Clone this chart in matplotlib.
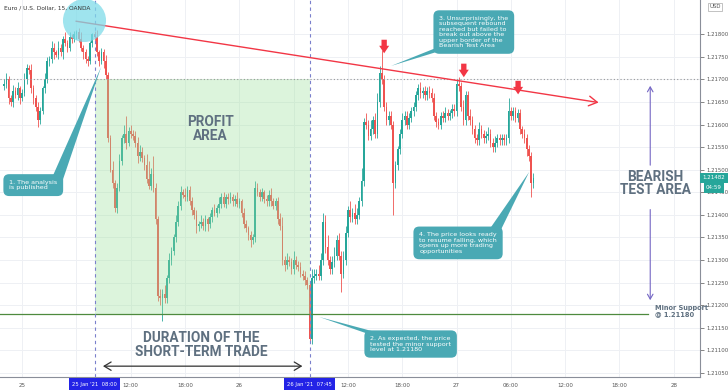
import numpy as np
import matplotlib
matplotlib.use("Agg")
import matplotlib.pyplot as plt
from matplotlib.patches import Rectangle, Polygon
from matplotlib.transforms import blended_transform_factory

# EUR/USD 15 min candles, first bar 24 Jan 22:00 (x axis = hours from 25 Jan 00:00)
start_hour = -2.0
bar_hours = 0.25
first_open = 1.21685

closes = [
    1.21690, 1.21700, 1.21660, 1.21650, 1.21675, 1.21665, 1.21680, 1.21660, 1.21670, 1.21700,
    1.21725, 1.21720, 1.21680, 1.21660, 1.21640, 1.21610, 1.21630, 1.21680, 1.21700, 1.21740,
    1.21745, 1.21770, 1.21760, 1.21755, 1.21770, 1.21760, 1.21790, 1.21780, 1.21770, 1.21795,
    1.21790, 1.21800, 1.21805, 1.21790, 1.21770, 1.21760, 1.21745, 1.21740, 1.21780, 1.21800,
    1.21795, 1.21760, 1.21740, 1.21760, 1.21740, 1.21710, 1.21570, 1.21500, 1.21470, 1.21415,
    1.21460, 1.21520, 1.21570, 1.21580, 1.21560, 1.21585, 1.21580, 1.21575, 1.21560, 1.21530,
    1.21540, 1.21525, 1.21510, 1.21480, 1.21465, 1.21490, 1.21460, 1.21390, 1.21220, 1.21215,
    1.21225, 1.21215, 1.21260, 1.21300, 1.21320, 1.21350, 1.21385, 1.21420, 1.21450, 1.21445,
    1.21440, 1.21455, 1.21430, 1.21410, 1.21400, 1.21375, 1.21380, 1.21385, 1.21375, 1.21390,
    1.21380, 1.21395, 1.21410, 1.21405, 1.21415, 1.21425, 1.21440, 1.21425, 1.21440, 1.21435,
    1.21440, 1.21430, 1.21435, 1.21425, 1.21430, 1.21405, 1.21380, 1.21370, 1.21355, 1.21345,
    1.21350, 1.21460, 1.21450, 1.21440, 1.21450, 1.21435, 1.21430, 1.21445, 1.21430, 1.21420,
    1.21430, 1.21390, 1.21375, 1.21300, 1.21290, 1.21300, 1.21295, 1.21280, 1.21300, 1.21290,
    1.21285, 1.21270, 1.21265, 1.21255, 1.21245, 1.21125, 1.21260, 1.21265, 1.21270, 1.21265,
    1.21300, 1.21385, 1.21330, 1.21300, 1.21280, 1.21295, 1.21310, 1.21345, 1.21310, 1.21270,
    1.21300, 1.21360, 1.21410, 1.21395, 1.21405, 1.21390, 1.21400, 1.21430, 1.21475, 1.21605,
    1.21600, 1.21575, 1.21590, 1.21610, 1.21580, 1.21650, 1.21715, 1.21700, 1.21640, 1.21610,
    1.21620, 1.21600, 1.21470, 1.21510, 1.21545, 1.21580, 1.21610, 1.21620, 1.21600, 1.21615,
    1.21630, 1.21640, 1.21665, 1.21680, 1.21670, 1.21675, 1.21665, 1.21675, 1.21670, 1.21660,
    1.21620, 1.21605, 1.21600, 1.21620, 1.21615, 1.21625, 1.21620, 1.21625, 1.21635, 1.21630,
    1.21690, 1.21685, 1.21640, 1.21610, 1.21665, 1.21620, 1.21610, 1.21590, 1.21570, 1.21565,
    1.21590, 1.21580, 1.21570, 1.21575, 1.21580, 1.21560, 1.21550, 1.21560, 1.21570, 1.21565,
    1.21570, 1.21565, 1.21570, 1.21630, 1.21620, 1.21630, 1.21615, 1.21625, 1.21590, 1.21580,
    1.21570, 1.21545, 1.21530, 1.21470, 1.21482,
]

# wicks beyond the body, in pips
upper_wick = [
    1.0, 1.5, 0.8, 0.6, 1.2, 0.8, 1.5, 0.6, 0.8, 1.5, 1.0, 0.8, 1.5, 0.8, 0.6, 1.0, 0.8, 0.6, 1.5, 1.0,
    0.8, 1.5, 1.0, 0.6, 1.5, 0.8, 0.6, 1.5, 0.8, 1.0, 0.6, 0.8, 0.5, 0.8, 1.5, 0.6, 0.8, 0.6, 0.5, 0.3,
    0.8, 1.5, 0.6, 1.0, 0.8, 1.5, 0.6, 0.8, 2.0, 0.8, 1.0, 1.5, 0.6, 2.0, 4.0, 1.0, 1.5, 0.8, 1.0, 1.2,
    1.5, 1.0, 0.8, 2.5, 4.0, 1.5, 4.0, 1.0, 0.8, 1.5, 1.0, 2.0, 0.8, 1.5, 1.0, 0.8, 1.5, 1.0, 1.5, 0.8,
    1.5, 1.0, 0.8, 1.0, 0.8, 1.0, 0.6, 1.5, 0.8, 1.0, 0.6, 1.0, 0.8, 1.5, 0.6, 1.5, 0.8, 1.0, 0.6, 0.8,
    1.0, 0.6, 0.8, 1.5, 0.8, 0.6, 1.0, 0.8, 0.6, 1.0, 0.8, 1.5, 1.0, 0.8, 1.0, 0.6, 0.8, 1.0, 1.5, 0.8,
    0.8, 1.0, 1.5, 2.0, 1.0, 1.5, 0.8, 1.0, 2.0, 1.0, 0.8, 1.0, 0.8, 1.0, 0.8, 0.8, 2.0, 1.5, 1.0, 2.0,
    1.5, 2.0, 1.5, 2.5, 1.0, 1.5, 2.0, 1.0, 1.5, 1.0, 2.0, 1.5, 1.0, 2.0, 1.0, 2.0, 1.5, 1.0, 3.0, 1.0,
    2.0, 1.0, 2.0, 1.0, 1.5, 2.0, 1.5, 5.0, 1.0, 1.0, 1.0, 1.0, 0.8, 1.0, 0.8, 1.0, 1.5, 1.0, 1.0, 1.0,
    1.0, 1.0, 1.0, 1.0, 1.5, 0.8, 1.0, 0.8, 1.0, 1.0, 1.0, 0.8, 1.0, 0.8, 1.0, 1.5, 1.0, 0.8, 1.0, 1.0,
    1.0, 1.5, 1.0, 1.5, 1.0, 1.0, 1.5, 0.8, 1.0, 1.0, 1.5, 1.0, 0.8, 1.0, 1.5, 1.0, 1.0, 1.5, 1.0, 1.0,
    1.0, 1.0, 1.0, 3.0, 1.0, 1.0, 1.0, 1.0, 1.0, 0.8, 1.0, 1.0, 1.0, 1.0, 1.0,
]
lower_wick = [
    0.8, 1.0, 1.5, 0.8, 1.0, 0.6, 1.0, 1.5, 0.8, 0.6, 1.0, 0.8, 1.0, 1.5, 1.0, 1.5, 0.8, 0.6, 1.0, 0.8,
    1.0, 0.8, 1.5, 0.6, 1.0, 0.8, 1.5, 0.6, 1.0, 0.8, 1.0, 0.8, 1.0, 0.6, 0.8, 1.5, 0.8, 1.0, 0.6, 0.8,
    1.0, 0.8, 1.0, 0.6, 1.5, 1.0, 0.8, 0.6, 1.0, 0.8, 1.0, 0.8, 1.0, 1.0, 1.5, 0.8, 1.0, 0.8, 1.0, 1.5,
    1.0, 0.8, 1.0, 1.0, 0.8, 1.0, 1.0, 1.0, 1.0, 1.5, 5.0, 1.0, 1.0, 1.0, 1.0, 0.8, 1.0, 1.0, 1.0, 0.8,
    1.0, 1.0, 0.8, 1.0, 1.0, 1.5, 1.0, 1.0, 0.8, 1.0, 1.5, 1.0, 1.0, 0.8, 1.0, 1.0, 1.0, 0.8, 1.0, 1.0,
    0.8, 1.0, 1.0, 0.8, 1.0, 1.0, 1.0, 0.8, 1.0, 1.5, 1.0, 1.0, 0.8, 1.0, 1.0, 0.8, 1.0, 1.0, 1.0, 0.8,
    1.0, 1.0, 0.8, 1.0, 1.5, 1.0, 0.8, 1.0, 1.0, 1.0, 1.0, 0.8, 1.0, 1.0, 1.0, 0.8, 1.0, 1.0, 1.0, 1.0,
    1.0, 1.0, 1.5, 1.0, 1.0, 1.0, 1.0, 1.0, 1.0, 4.0, 1.0, 1.0, 1.0, 1.0, 1.0, 1.0, 1.0, 1.0, 1.0, 1.0,
    1.0, 1.0, 1.0, 1.0, 1.0, 1.0, 1.0, 1.0, 1.0, 1.0, 1.0, 1.0, 7.0, 1.0, 1.0, 1.0, 1.0, 1.0, 1.0, 1.0,
    1.0, 1.0, 1.0, 1.0, 1.0, 1.0, 1.0, 1.0, 1.0, 1.0, 1.0, 1.0, 1.0, 1.0, 1.0, 1.0, 1.0, 1.0, 1.0, 1.0,
    1.0, 1.0, 1.0, 1.0, 1.0, 1.0, 1.0, 1.0, 1.0, 1.0, 1.0, 1.0, 1.0, 1.0, 1.0, 1.0, 1.0, 1.0, 1.0, 1.0,
    1.0, 1.0, 1.0, 1.0, 1.0, 1.0, 1.0, 1.0, 1.0, 1.0, 1.0, 1.5, 1.0, 3.0, 1.0,
]

price_ticks = [1.21050, 1.21100, 1.21150, 1.21200, 1.21250, 1.21300, 1.21350, 1.21400,
               1.21450, 1.21500, 1.21550, 1.21600, 1.21650, 1.21700, 1.21750, 1.21800]
time_ticks = [0, 6, 12, 18, 24, 30, 36, 42, 48, 54, 60, 66, 72]
time_labels = ["25", "", "12:00", "18:00", "26", "", "12:00", "18:00", "27", "06:00", "12:00", "18:00", "28"]

minor_support = 1.21180
test_top = 1.21700
analysis_hour = 8.0      # 25 Jan 08:00
test_hour = 31.75        # 26 Jan 07:45
last_price = 1.21482
trend_start = (5.64, 1.21830)
trend_end = (64.0, 1.21648)

up_col = "#26a69a"
down_col = "#ef5350"
teal = "#4aa9b4"
label_col = "#5f7080"
pip = 0.0001

closes = np.array(closes)
opens = np.concatenate([[first_open], closes[:-1]])
hours = start_hour + bar_hours * np.arange(len(closes))
highs = np.maximum(opens, closes) + np.array(upper_wick) * pip
lows = np.minimum(opens, closes) - np.array(lower_wick) * pip
colors = np.where(closes >= opens, up_col, down_col)

fig = plt.figure(figsize=(7.28, 3.91), dpi=100)
ax = fig.add_axes([0, 14 / 391, 700 / 728, 377 / 391])
ax.set_xlim(-2.45, 74.9)
ax.set_ylim(1.21041, 1.21876)

# grid
for t in time_ticks:
    ax.axvline(t, color="#eef0f4", lw=0.7, zorder=0)
for p in price_ticks:
    ax.axhline(p, color="#eef0f4", lw=0.7, zorder=0)

# candles
ax.vlines(hours, lows, highs, colors=colors, lw=0.6, zorder=2)
body = np.maximum(np.abs(closes - opens), 0.00002)
ax.bar(hours, body, bottom=np.minimum(opens, closes), width=0.18, color=colors, lw=0, zorder=2)

# profit area
ax.add_patch(Rectangle((analysis_hour, minor_support), test_hour - analysis_hour,
                       test_top - minor_support, fc="#9be29b", alpha=0.35, lw=0, zorder=3))

ax.axhline(test_top, color="#9a9a9a", lw=0.8, ls=(0, (1, 2)), zorder=3)
ax.plot([-2.45, 69.2], [minor_support, minor_support], color="#4e8a3e", lw=0.9, zorder=3)
for t in [analysis_hour, test_hour]:
    ax.axvline(t, color="#7b80cc", lw=0.8, ls=(0, (3, 3)), zorder=3)

# trend line
ax.annotate("", xy=trend_end, xytext=trend_start,
            arrowprops=dict(arrowstyle="->,head_length=0.6,head_width=0.35", color="#f23645", lw=1.0),
            zorder=4)

# highlight circle
ax.plot([6.85], [1.21832], "o", ms=31, color="#7fdbe9", alpha=0.75, mec="none", zorder=5)

# red arrows at touches
for tip_h, tip_p, top_p in [(40.0, 1.21758, 1.21788), (48.8, 1.21705, 1.21735), (54.8, 1.21667, 1.21697)]:
    ax.annotate("", xy=(tip_h, tip_p), xytext=(tip_h, top_p),
                arrowprops=dict(arrowstyle="simple,head_length=0.45,head_width=0.6,tail_width=0.32",
                                color="#f23645", lw=0, mutation_scale=12, shrinkA=0, shrinkB=0),
                zorder=6)

# big labels
big = dict(family="Roboto", fontsize=9.8, fontweight="bold", color=label_col, ha="center",
           va="center", linespacing=0.95, zorder=6)
ax.text(20.8, 1.21590, "PROFIT\nAREA", **big)
ax.text(19.8, 1.21112, "DURATION OF THE\nSHORT-TERM TRADE", **big)
ax.text(70.0, 1.21470, "BEARISH\nTEST AREA", **big)

ax.annotate("", xy=(8.62, 1.21065), xytext=(31.27, 1.21065),
            arrowprops=dict(arrowstyle="<->,head_length=0.5,head_width=0.3", color="#333333", lw=0.9),
            zorder=6)
ax.annotate("", xy=(69.4, 1.21692), xytext=(69.4, 1.21504),
            arrowprops=dict(arrowstyle="->,head_length=0.35,head_width=0.2", color="#7466c4", lw=0.8))
ax.annotate("", xy=(69.4, 1.21205), xytext=(69.4, 1.21418),
            arrowprops=dict(arrowstyle="->,head_length=0.35,head_width=0.2", color="#7466c4", lw=0.8))
ax.text(69.9, 1.21188, "Minor Support\n@ 1.21180", fontsize=4.8, color=label_col,
        fontweight="bold", ha="left", va="center", linespacing=1.0, zorder=6)


def callout(x, y, text, tip, base):
    ax.add_patch(Polygon([base[0], base[1], tip], closed=True, fc=teal, ec="none", zorder=6))
    ax.text(x, y, text, fontsize=4.6, color="white", ha="left", va="center", linespacing=1.1,
            zorder=7, bbox=dict(boxstyle="round,pad=0.9,rounding_size=0.9", fc=teal, ec="none"))


callout(-1.44, 1.21466, "1. The analysis\nis published",
        (8.73, 1.21728), [(3.2, 1.21478), (4.5, 1.21478)])
callout(38.45, 1.21114, "2. As expected, the price\ntested the minor support\nlevel at 1.21180",
        (32.82, 1.21174), [(38.3, 1.21136), (39.9, 1.21136)])
callout(46.08, 1.21805, "3. Unsurprisingly, the\nsubsequent rebound\nreached but failed to\n"
        "break out above the\nupper border of the\nBearish Test Area",
        (40.77, 1.21730), [(46.0, 1.21772), (47.6, 1.21772)])
callout(43.87, 1.21338, "4. The price looks ready\nto resume falling, which\nopens up more trading\nopportunities",
        (56.02, 1.21495), [(51.6, 1.21367), (52.9, 1.21367)])

# axes styling
for s in ["top", "left"]:
    ax.spines[s].set_visible(False)
ax.spines["right"].set_color("#8a8e99")
ax.spines["bottom"].set_color("#8a8e99")
ax.spines["right"].set_linewidth(0.8)
ax.spines["bottom"].set_linewidth(0.8)
ax.yaxis.tick_right()
ax.set_yticks(price_ticks)
ax.set_yticklabels(["%.5f" % p for p in price_ticks])
ax.tick_params(axis="y", labelsize=3.9, colors="#555555", length=3, width=0.5, pad=1.5)
ax.set_xticks(time_ticks)
ax.set_xticklabels(time_labels)
ax.tick_params(axis="x", labelsize=4.0, colors="#555555", length=0, pad=4)

trans = blended_transform_factory(ax.transData, ax.transAxes)
for t, lab in [(analysis_hour, "25 Jan '21  08:00"), (test_hour, "26 Jan '21  07:45")]:
    ax.text(t, -0.019, lab, transform=trans, fontsize=3.8, color="white", ha="center", va="center",
            clip_on=False, bbox=dict(boxstyle="square,pad=0.6", fc="#2323e6", ec="none"))

ax.text(0.006, 0.985, "Euro / U.S. Dollar, 15, OANDA", transform=ax.transAxes, fontsize=4.2,
        color="#333333", ha="left", va="top", zorder=8)

fig.text(715 / 728, 1 - 7 / 391, "USD", fontsize=3.9, color="#555555", ha="center", va="center",
         bbox=dict(boxstyle="square,pad=0.3", fc="white", ec="#aaaaaa", lw=0.5))
price_y = ax.transData.transform((0, last_price))[1] / 391
fig.text(714 / 728, price_y, "%.5f" % last_price, fontsize=4.0, color="white", ha="center",
         va="center", bbox=dict(boxstyle="square,pad=0.4", fc=up_col, ec="none"))
fig.text(714 / 728, price_y - 10 / 391, "04:59", fontsize=4.0, color="white", ha="center",
         va="center", bbox=dict(boxstyle="square,pad=0.4", fc=up_col, ec="none"))

fig.savefig("out.png", dpi=100)
